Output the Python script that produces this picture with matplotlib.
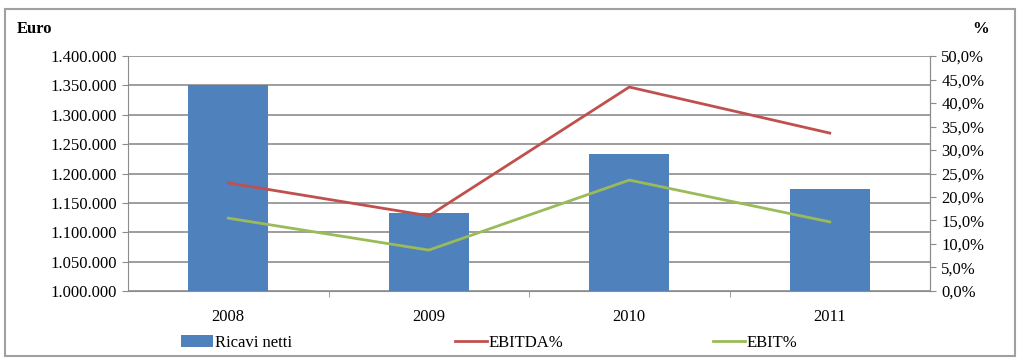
import numpy as np
import matplotlib.pyplot as plt
from matplotlib.ticker import FuncFormatter, FixedLocator
from matplotlib.patches import Rectangle

plt.rcParams['font.family'] = ['Liberation Serif', 'DejaVu Serif']

years = ['2008', '2009', '2010', '2011']
ricavi = [1350000, 1132000, 1233000, 1174000]
ebitda = [23.0, 16.0, 43.4, 33.6]
ebit = [15.5, 8.7, 23.6, 14.7]

c_bar = '#4F81BD'
c_ebitda = '#C0504D'
c_ebit = '#9BBB59'
grid_c = '#8C8C8C'
fs = 12

fig = plt.figure(figsize=(10.19, 3.6), dpi=100)
fig.patch.set_facecolor('white')
fig.patches.append(Rectangle((0.005, 0.01), 0.991, 0.965, transform=fig.transFigure,
                             fill=False, edgecolor='#A0A0A0', linewidth=1.5))

ax = fig.add_axes([0.1256, 0.1917, 0.7871, 0.6527])
x = np.arange(len(years))
bars = ax.bar(x, ricavi, width=0.4, color=c_bar, label='Ricavi netti', zorder=2)
ax.set_ylim(1000000, 1400000)
ax.set_xlim(-0.5, 3.5)
ax.set_yticks(np.arange(1000000, 1400001, 50000))
ax.yaxis.set_major_formatter(FuncFormatter(lambda v, p: f'{int(v):,}'.replace(',', '.')))
ax.grid(axis='y', color=grid_c, linewidth=1.2, zorder=0)
ax.set_axisbelow(True)
ax.set_xticks(x)
ax.set_xticklabels(years)
ax.xaxis.set_minor_locator(FixedLocator([0.5, 1.5, 2.5]))
ax.tick_params(axis='x', which='major', length=0, pad=13, labelsize=fs)
ax.tick_params(axis='x', which='minor', length=4, color=grid_c)
ax.tick_params(axis='y', length=4, color=grid_c, labelsize=fs, pad=4)
ax.spines['top'].set_visible(False)
for s in ['left', 'right', 'bottom']:
    ax.spines[s].set_color(grid_c)

ax2 = ax.twinx()
l1, = ax2.plot(x, ebitda, color=c_ebitda, linewidth=2, label='EBITDA%', zorder=3)
l2, = ax2.plot(x, ebit, color=c_ebit, linewidth=2, label='EBIT%', zorder=3)
ax2.set_ylim(0, 50)
ax2.set_yticks(np.arange(0, 51, 5))
ax2.yaxis.set_major_formatter(FuncFormatter(lambda v, p: f'{v:.1f}%'.replace('.', ',')))
ax2.tick_params(axis='y', length=4, color=grid_c, labelsize=fs, pad=4)
for s in ['top', 'left', 'bottom']:
    ax2.spines[s].set_visible(False)
ax2.spines['right'].set_color(grid_c)

fig.text(0.016, 0.92, 'Euro', fontsize=fs, fontweight='bold', ha='left', va='center')
fig.text(0.962, 0.92, '%', fontsize=fs, fontweight='bold', ha='center', va='center')

# three legend entries spread along the bottom, as in the original
for h, lab, xpos in [(bars, 'Ricavi netti', 0.178), (l1, 'EBITDA%', 0.447), (l2, 'EBIT%', 0.700)]:
    fig.legend([h], [lab], loc='center left', bbox_to_anchor=(xpos, 0.047),
               frameon=False, fontsize=fs, handlelength=1.9, handletextpad=0.1,
               borderpad=0, borderaxespad=0)

fig.savefig('out.png', dpi=100)
